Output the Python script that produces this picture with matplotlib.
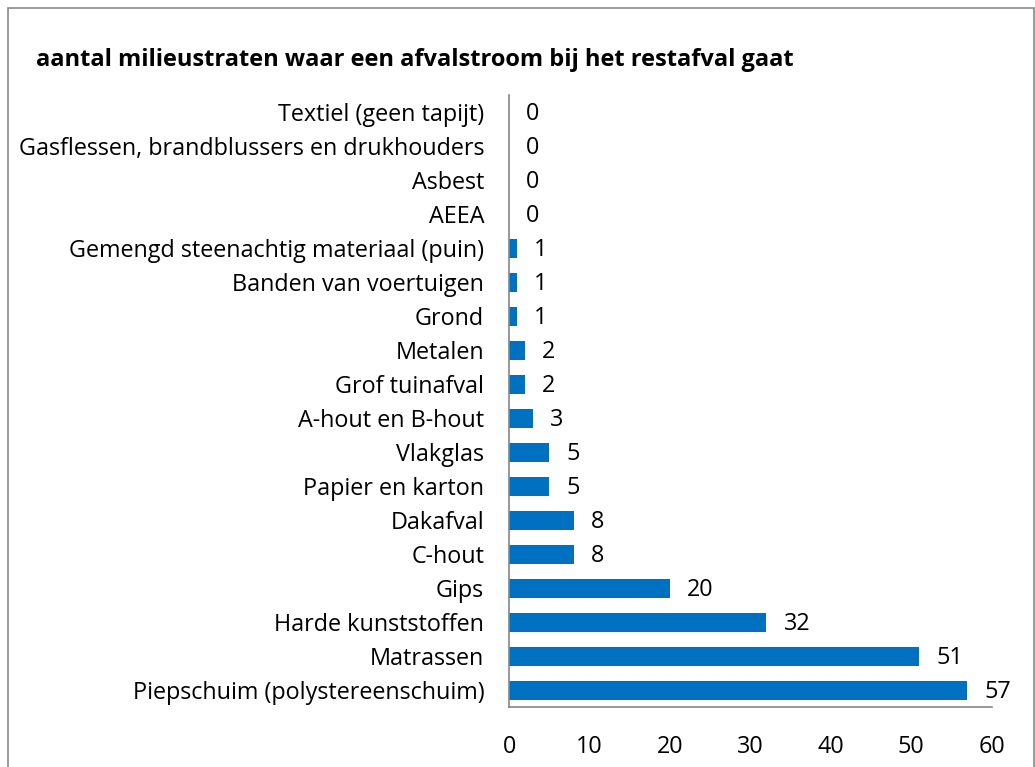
import matplotlib.pyplot as plt
from matplotlib.patches import Rectangle

categories = ['Piepschuim (polystereenschuim)', 'Matrassen', 'Harde kunststoffen', 'Gips',
              'C-hout', 'Dakafval', 'Papier en karton', 'Vlakglas', 'A-hout en B-hout',
              'Grof tuinafval', 'Metalen', 'Grond', 'Banden van voertuigen',
              'Gemengd steenachtig materiaal (puin)', 'AEEA', 'Asbest',
              'Gasflessen, brandblussers en drukhouders', 'Textiel (geen tapijt)']
values = [57, 51, 32, 20, 8, 8, 5, 5, 3, 2, 2, 1, 1, 1, 0, 0, 0, 0]
xticks = [0, 10, 20, 30, 40, 50, 60]

plt.rcParams['font.family'] = ['Open Sans', 'DejaVu Sans']
fs = 16.8

fig = plt.figure(figsize=(10.35, 7.67), dpi=100)
ax = fig.add_axes([0.492, 0.078, 0.466, 0.798])

pos = list(range(len(categories)))
ax.barh(pos, values, height=0.56, color='#0070C0')
# value labels right of the bars
for p, v in zip(pos, values):
    ax.annotate(str(v), (v, p), xytext=(17, -2), textcoords='offset pixels',
                va='center', ha='left', fontsize=fs, color='black')

ax.set_ylim(-0.5, len(categories) - 0.5)
ax.set_xlim(0, 60)
ax.set_yticks(pos)
ax.set_yticklabels(categories, fontsize=fs)
ax.set_xticks(xticks)
ax.set_xticklabels([str(t) for t in xticks], fontsize=fs)
ax.tick_params(axis='y', length=0, pad=18)
ax.tick_params(axis='x', length=0, pad=20)

for s in ['top', 'right']:
    ax.spines[s].set_visible(False)
ax.spines['left'].set_color('#868686')
ax.spines['bottom'].set_color('#868686')
ax.spines['left'].set_linewidth(1.2)
ax.spines['bottom'].set_linewidth(1.2)

fig.text(36 / 1035, 1 - 60 / 767, 'aantal milieustraten waar een afvalstroom bij het restafval gaat',
         fontsize=17, fontweight='bold', va='center', ha='left')

# chart area border (bottom edge cut off in the reference)
fig.patches.append(Rectangle((8 / 1035, -0.05), (1034 - 8) / 1035, 1.05 - 8 / 767,
                             transform=fig.transFigure, fill=False, edgecolor='#898989',
                             linewidth=1.2, clip_on=False))

fig.savefig('out.png', dpi=100)
